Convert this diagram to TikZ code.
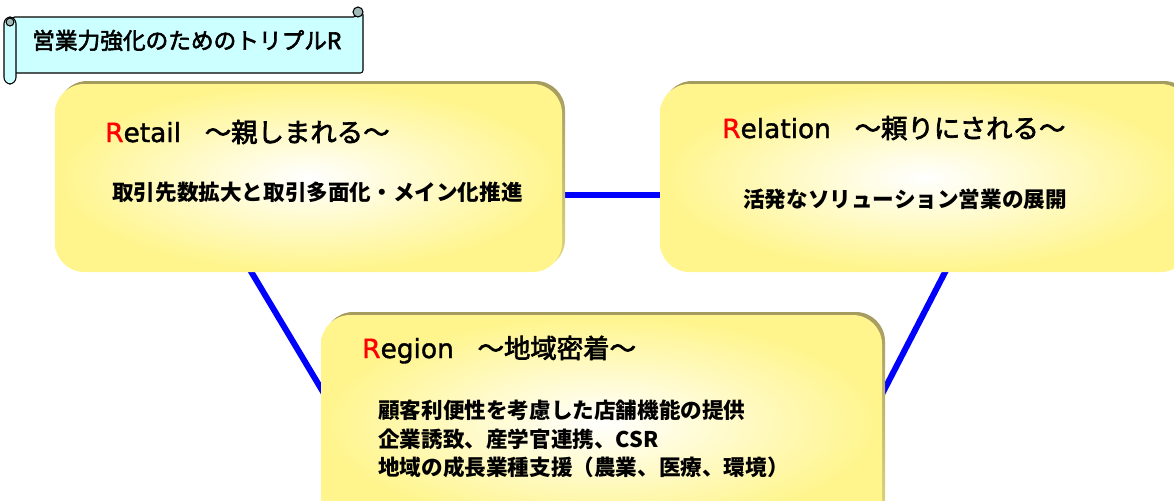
\documentclass[tikz,border=0pt]{standalone}
\usepackage{fontspec}
\setmainfont{Noto Sans CJK JP}
\newfontfamily\medjp[FakeBold=2.5]{Noto Sans CJK JP}
\newfontfamily\latinsans[FakeBold=1.5]{DejaVu Sans}
\usetikzlibrary{calc}
\pgfdeclarelayer{bg}
\pgfsetlayers{bg,main}
\definecolor{boxyellow}{RGB}{255,245,140}
\definecolor{edgeolive}{RGB}{165,155,95}
\definecolor{edgelight}{RGB}{225,215,125}
\definecolor{scrollcyan}{RGB}{204,255,255}
\definecolor{curlgray}{RGB}{160,185,185}
\definecolor{linkblue}{RGB}{0,0,255}
\newcommand{\redR}[1]{{\latinsans\color{red}R}{\latinsans #1}}
\begin{document}
\begin{tikzpicture}[x=0.75pt,y=-0.75pt,
  boxshape/.style={rectangle, rounded corners=22pt, draw=none, inner sep=0pt,
    shading=radial, inner color=white, outer color=boxyellow},
  boxedge/.style={rectangle, rounded corners=22pt, draw=none, inner sep=0pt,
    top color=edgeolive, bottom color=edgelight},
  conn/.style={draw=linkblue, line width=4.5pt, shorten <=-6pt, shorten >=-6pt},
  titletext/.style={anchor=base west, inner sep=0pt, font=\medjp\fontsize{19.8}{23}\selectfont},
  bodytext/.style={anchor=base west, inner sep=0pt,
    font=\bfseries\fontsize{16.2}{21}\selectfont},
  scrolltext/.style={anchor=base west, inner sep=0pt, font=\medjp\fontsize{17}{20}\selectfont},
  scrollline/.style={draw=black, line width=0.8pt, fill=scrollcyan}
]
\useasboundingbox (0,0) rectangle (1174,500);
\clip (0,0) rectangle (1174,500);

% ---------- scroll banner ----------
\path[scrollline, rounded corners=2pt] (12,17) -- (356,17) -- (356,12) -- (363,12) -- (363,73) -- (12,73) -- cycle;
\path[scrollline, rounded corners=5pt] (4,17) rectangle (16,84);
\draw[line width=0.8pt, fill=curlgray] (10,22) circle[radius=4];
\draw[line width=0.8pt, fill=curlgray] (358,12) circle[radius=5];
\node[scrolltext] (banner) at (32,49) {営業力強化のためのトリプルR};

% ---------- box edges (bevel) ----------
\node[boxedge, minimum width=380.25pt, minimum height=141pt] (retailedge) at (311.5,175) {};
\node[boxedge, minimum width=397.5pt, minimum height=141pt] (relationedge) at (928,175) {};
\node[boxedge, minimum width=420.75pt, minimum height=161.25pt] (regionedge) at (604.5,419.5) {};

% ---------- boxes ----------
\node[boxshape, minimum width=380.25pt, minimum height=141pt] (retail) at (308.5,178) {};
\node[boxshape, minimum width=397.5pt, minimum height=141pt] (relation) at (925,178) {};
\node[boxshape, minimum width=420.75pt, minimum height=161.25pt] (region) at (601.5,422.5) {};

% ---------- connectors ----------
\begin{pgfonlayer}{bg}
\draw[conn] ($(retail.east)+(0,17)$) -- ($(relation.west)+(0,17)$);
\draw[conn] ($(retail.south)+(-57,0)$) -- ($(region.north west)+(1,75)$);
\draw[conn] ($(relation.south)+(20,0)$) -- ($(region.north east)+(1,77)$);
\end{pgfonlayer}

% ---------- texts ----------
\node[titletext] (rettitle) at (105,142) {\redR{etail}\hspace{0.9em}～親しまれる～};
\node[bodytext] (retbody) at (112,200) {取引先数拡大と取引多面化・メイン化推進};

\node[titletext] (reltitle) at (722,138) {\redR{elation}\hspace{0.9em}～頼りにされる～};
\node[bodytext] (relbody) at (743,207) {活発なソリューション営業の展開};

\node[titletext] (regtitle) at (362,358) {\redR{egion}\hspace{0.9em}～地域密着～};
\node[bodytext] (regbody1) at (378,418) {顧客利便性を考慮した店舗機能の提供};
\node[bodytext] (regbody2) at (378,447) {企業誘致、産学官連携、CSR};
\node[bodytext] (regbody3) at (378,475) {地域の成長業種支援（農業、医療、環境）};
\end{tikzpicture}
\end{document}
